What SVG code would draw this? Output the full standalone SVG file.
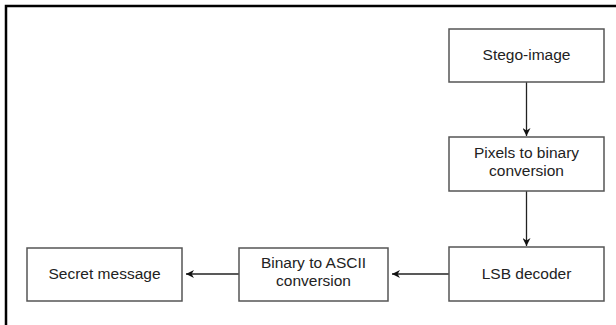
<svg xmlns="http://www.w3.org/2000/svg" width="616" height="325" viewBox="0 0 616 325">
<style>
.box{fill:#fff;stroke:#555;stroke-width:1.5}
.t{font-family:"Liberation Sans",Arial,sans-serif;font-size:15.5px;fill:#222;text-anchor:middle}
.c{stroke:#222;stroke-width:1.3;fill:none}
</style>
<defs>
<marker id="ah" viewBox="0 0 10 10" refX="10" refY="5" markerWidth="8" markerHeight="8" markerUnits="userSpaceOnUse" orient="auto">
<path d="M0,0 L10,5 L0,10 L3,5 Z" fill="#111"/>
</marker>
</defs>
<rect x="0" y="0" width="616" height="325" fill="#fff"/>
<path d="M6,325 V6 H616" fill="none" stroke="#000" stroke-width="2.5"/>
<g id="connectors">
<line class="c" x1="526.5" y1="82" x2="526.5" y2="136" marker-end="url(#ah)"/>
<line class="c" x1="526.5" y1="191" x2="526.5" y2="246" marker-end="url(#ah)"/>
<line class="c" x1="449" y1="274" x2="392" y2="274" marker-end="url(#ah)"/>
<line class="c" x1="239" y1="274" x2="186" y2="274" marker-end="url(#ah)"/>
</g>
<g id="stego">
<rect class="box" x="449" y="29" width="155" height="53"/>
<text class="t" x="526.5" y="60">Stego-image</text>
</g>
<g id="pixels">
<rect class="box" x="449" y="137" width="155" height="54"/>
<text class="t" x="526.5" y="158">Pixels to binary</text>
<text class="t" x="526.5" y="176">conversion</text>
</g>
<g id="lsb">
<rect class="box" x="449" y="247" width="155" height="54"/>
<text class="t" x="526.5" y="279">LSB decoder</text>
</g>
<g id="binary">
<rect class="box" x="239" y="248" width="149" height="53"/>
<text class="t" x="313.5" y="268">Binary to ASCII</text>
<text class="t" x="313.5" y="286">conversion</text>
</g>
<g id="secret">
<rect class="box" x="27" y="248" width="155" height="53"/>
<text class="t" x="104.5" y="279">Secret message</text>
</g>
</svg>
